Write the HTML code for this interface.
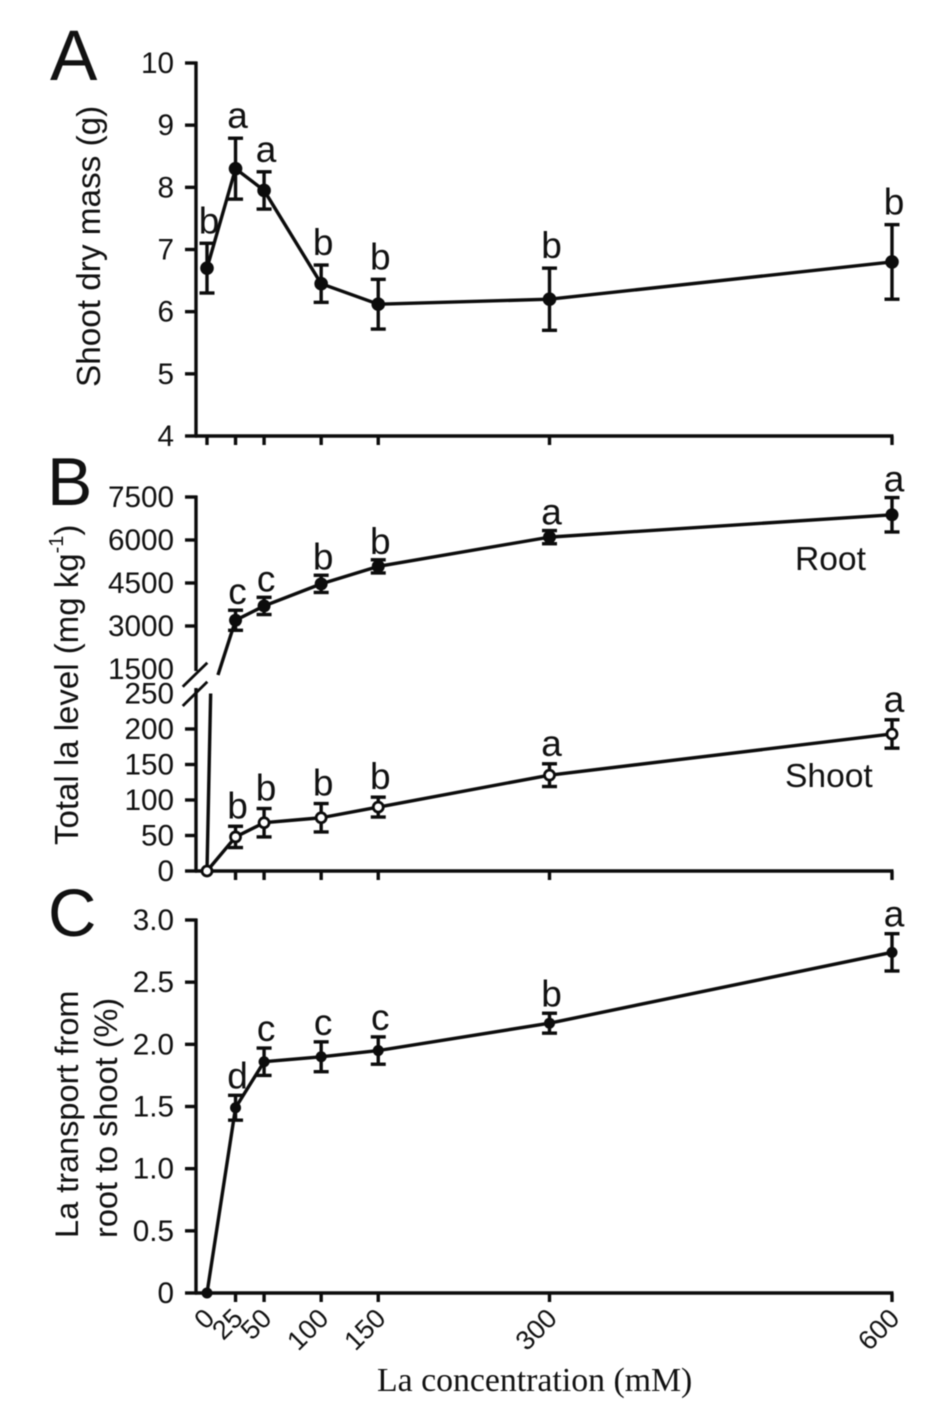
<!DOCTYPE html>
<html lang="en">
<head>
<meta charset="utf-8">
<title>La concentration chart</title>
<style>
html,body{margin:0;padding:0;background:#fff;}
svg{display:block;filter:blur(0.55px);}
text{font-family:"Liberation Sans",sans-serif;fill:#111;}
</style>
</head>
<body>
<svg id="chart" xmlns="http://www.w3.org/2000/svg" width="945" height="1419" viewBox="0 0 945 1419">
  <text x="50" y="80" font-size="71">A</text>
  <text x="47" y="505" font-size="68">B</text>
  <text x="48" y="936" font-size="67">C</text>
  <text transform="translate(100,387) rotate(-90)" font-size="33.3">Shoot dry mass (g)</text>
  <text transform="translate(78,845) rotate(-90)" font-size="33">Total la level (mg kg<tspan font-size="20" dy="-15">-1</tspan><tspan dy="15">)</tspan></text>
  <text transform="translate(78,1238) rotate(-90)" font-size="32.5">La transport from</text>
  <text transform="translate(117,1238) rotate(-90)" font-size="32.5">root to shoot (%)</text>
  <text x="377" y="1391" font-size="33.8" style="font-family:'Liberation Serif',serif">La concentration (mM)</text>
  <text x="795" y="570" font-size="33.6">Root</text>
  <text x="785" y="787" font-size="33.6">Shoot</text>
</svg>
<script>
const concentrations = [0, 25, 50, 100, 150, 300, 600];
const shootMass = [6.7, 8.3, 7.95, 6.45, 6.12, 6.2, 6.8];
const shootMassErr = [0.4, 0.49, 0.3, 0.3, 0.4, 0.5, 0.6];
const shootMassLetters = ['b', 'a', 'a', 'b', 'b', 'b', 'b'];
const massTicks = [4, 5, 6, 7, 8, 9, 10];

const rootConcentrations = [25, 50, 100, 150, 300, 600];
const rootLevel = [3200, 3700, 4470, 5080, 6100, 6880];
const rootErr = [350, 300, 300, 230, 230, 600];
const rootLetters = ['c', 'c', 'b', 'b', 'a', 'a'];
const rootBreakPoint = [9.6, 1290];
const rootTickLabels = [1500, 3000, 4500, 6000, 7500];

const shootConcentrations = [0, 25, 50, 100, 150, 300, 600];
const shootLevel = [0, 48, 68, 75, 90, 135, 193];
const shootErr = [0, 15, 20, 20, 14, 16, 20];
const shootLetters = ['', 'b', 'b', 'b', 'b', 'a', 'a'];
const shootTickLabels = [0, 50, 100, 150, 200, 250];
const shootBreakPoint = [3.2, 250];

const transport = [0, 1.49, 1.86, 1.9, 1.95, 2.17, 2.74];
const transportErr = [0, 0.1, 0.11, 0.12, 0.11, 0.08, 0.15];
const transportLetters = ['', 'd', 'c', 'c', 'c', 'b', 'a'];
const transportTicks = ['0', '0.5', '1.0', '1.5', '2.0', '2.5', '3.0'];

const svg = document.getElementById('chart');
const NS = 'http://www.w3.org/2000/svg';
const INK = '#0c0c0c';

function xPos(v) { return 207 + v * (892 - 207) / 600; }
function yMass(v) { return 436 - (v - 4) * (436 - 63) / 6; }
function yRoot(v) { return 669 - (v - 1500) * (669 - 497) / 6000; }
function yShoot(v) { return 871 - v * (871 - 693.5) / 250; }
function yTransport(v) { return 1293 - v * (1293 - 920) / 3; }

function drawLine(x1, y1, x2, y2, width, name) {
  const el = document.createElementNS(NS, 'line');
  el.setAttribute('x1', x1);
  el.setAttribute('y1', y1);
  el.setAttribute('x2', x2);
  el.setAttribute('y2', y2);
  el.setAttribute('stroke', INK);
  el.setAttribute('stroke-width', width);
  
  
  svg.appendChild(el);
  return el;
}

function drawText(x, y, str, size, anchor, name) {
  const el = document.createElementNS(NS, 'text');
  el.setAttribute('x', x);
  el.setAttribute('y', y);
  el.setAttribute('font-size', size);
  el.setAttribute('text-anchor', anchor);
  
  
  el.textContent = str;
  svg.appendChild(el);
  return el;
}

function drawPolyline(xs, ys, name) {
  const el = document.createElementNS(NS, 'polyline');
  el.setAttribute('points', xs.map(function (x, i) { return x + ',' + ys[i]; }).join(' '));
  el.setAttribute('fill', 'none');
  el.setAttribute('stroke', INK);
  el.setAttribute('stroke-width', 3.4);
  el.setAttribute('stroke-linejoin', 'round');
  
  
  svg.appendChild(el);
}

function drawMarker(x, y, r, open, name) {
  const el = document.createElementNS(NS, 'circle');
  el.setAttribute('cx', x);
  el.setAttribute('cy', y);
  el.setAttribute('r', r);
  el.setAttribute('fill', open ? '#fff' : INK);
  el.setAttribute('stroke', INK);
  el.setAttribute('stroke-width', open ? 2.8 : 0);
  
  
  svg.appendChild(el);
}

function drawErrorBar(x, top, bottom, name) {
  drawLine(x, top, x, bottom, 3.4, name + '-stem');
  drawLine(x - 7.5, top, x + 7.5, top, 3.4, name + '-cap-top');
  drawLine(x - 7.5, bottom, x + 7.5, bottom, 3.4, name + '-cap-bottom');
}

function drawSeries(prefix, cs, vals, errs, letters, yFn, radius, open, letterGap) {
  cs.forEach(function (c, i) {
    if (errs[i] > 0) {
      drawErrorBar(xPos(c), yFn(vals[i] + errs[i]), yFn(vals[i] - errs[i]), prefix + '-error-bar-' + c);
    }
  });
  cs.forEach(function (c, i) {
    drawMarker(xPos(c), yFn(vals[i]), radius, open, prefix + '-point-' + c);
    if (letters[i]) {
      drawText(xPos(c) + 2, yFn(vals[i] + errs[i]) - letterGap, letters[i], 37, 'middle', prefix + '-significance-' + c);
    }
  });
}

function drawYTicks(prefix, ticks, yFn, skip) {
  ticks.forEach(function (t) {
    const y = yFn(parseFloat(t));
    if (skip.indexOf(t) < 0) {
      drawLine(185, y, 197, y, 3.4, prefix + '-y-tick-' + t);
    }
    drawText(174, y + 10, String(t), 29.7, 'end', prefix + '-y-tick-label-' + t);
  });
}

function drawXTicks(prefix, y0) {
  concentrations.slice(1).forEach(function (c) {
    drawLine(xPos(c), y0, xPos(c), y0 + 9, 3.4, prefix + '-x-tick-' + c);
  });
}

/* Panel A */
drawLine(196, 61.5, 196, 437.5, 3.4, 'panel-a-y-axis');
drawLine(195, 436, 893.5, 436, 3.4, 'panel-a-x-axis');
drawYTicks('panel-a', massTicks, yMass, []);
drawXTicks('panel-a', 436);
drawLine(xPos(0), 436, xPos(0), 445, 3.4, 'panel-a-x-tick-0');
drawPolyline(concentrations.map(xPos), shootMass.map(yMass), 'shoot-mass-line');
drawSeries('shoot-mass', concentrations, shootMass, shootMassErr, shootMassLetters, yMass, 6.8, false, 10);

/* Panel B */
drawLine(196, 495.5, 196, 671, 3.4, 'panel-b-upper-y-axis');
drawLine(196, 688, 196, 872.5, 3.4, 'panel-b-lower-y-axis');
drawLine(182.7, 686.7, 207.3, 662.7, 2.8, 'axis-break-upper');
drawLine(182.7, 706, 207.3, 681.7, 2.8, 'axis-break-lower');
drawLine(195, 871, 893.5, 871, 3.4, 'panel-b-x-axis');
drawYTicks('panel-b-root', rootTickLabels, yRoot, [1500]);
drawYTicks('panel-b-shoot', shootTickLabels, yShoot, [250]);
drawXTicks('panel-b', 871);
drawPolyline([xPos(rootBreakPoint[0])].concat(rootConcentrations.map(xPos)),
  [yRoot(rootBreakPoint[1])].concat(rootLevel.map(yRoot)), 'root-line');
drawPolyline([xPos(shootBreakPoint[0])].concat(shootConcentrations.map(xPos)),
  [yShoot(shootBreakPoint[1])].concat(shootLevel.map(yShoot)), 'shoot-line');
drawSeries('root', rootConcentrations, rootLevel, rootErr, rootLetters, yRoot, 6.5, false, 6);
drawSeries('shoot', shootConcentrations, shootLevel, shootErr, shootLetters, yShoot, 5, true, 8);

/* Panel C */
drawLine(196, 918.5, 196, 1294.5, 3.4, 'panel-c-y-axis');
drawLine(195, 1293, 893.5, 1293, 3.4, 'panel-c-x-axis');
drawYTicks('panel-c', transportTicks, yTransport, []);
drawXTicks('panel-c', 1293);
drawPolyline(concentrations.map(xPos), transport.map(yTransport), 'transport-line');
drawSeries('transport', concentrations, transport, transportErr, transportLetters, yTransport, 5.5, false, 7);

concentrations.forEach(function (c) {
  const label = drawText(0, 0, String(c), 27, 'end', 'x-tick-label-' + c);
  label.setAttribute('transform', 'translate(' + (xPos(c) + 9) + ',1320) rotate(-45)');
});
</script>
</body>
</html>
